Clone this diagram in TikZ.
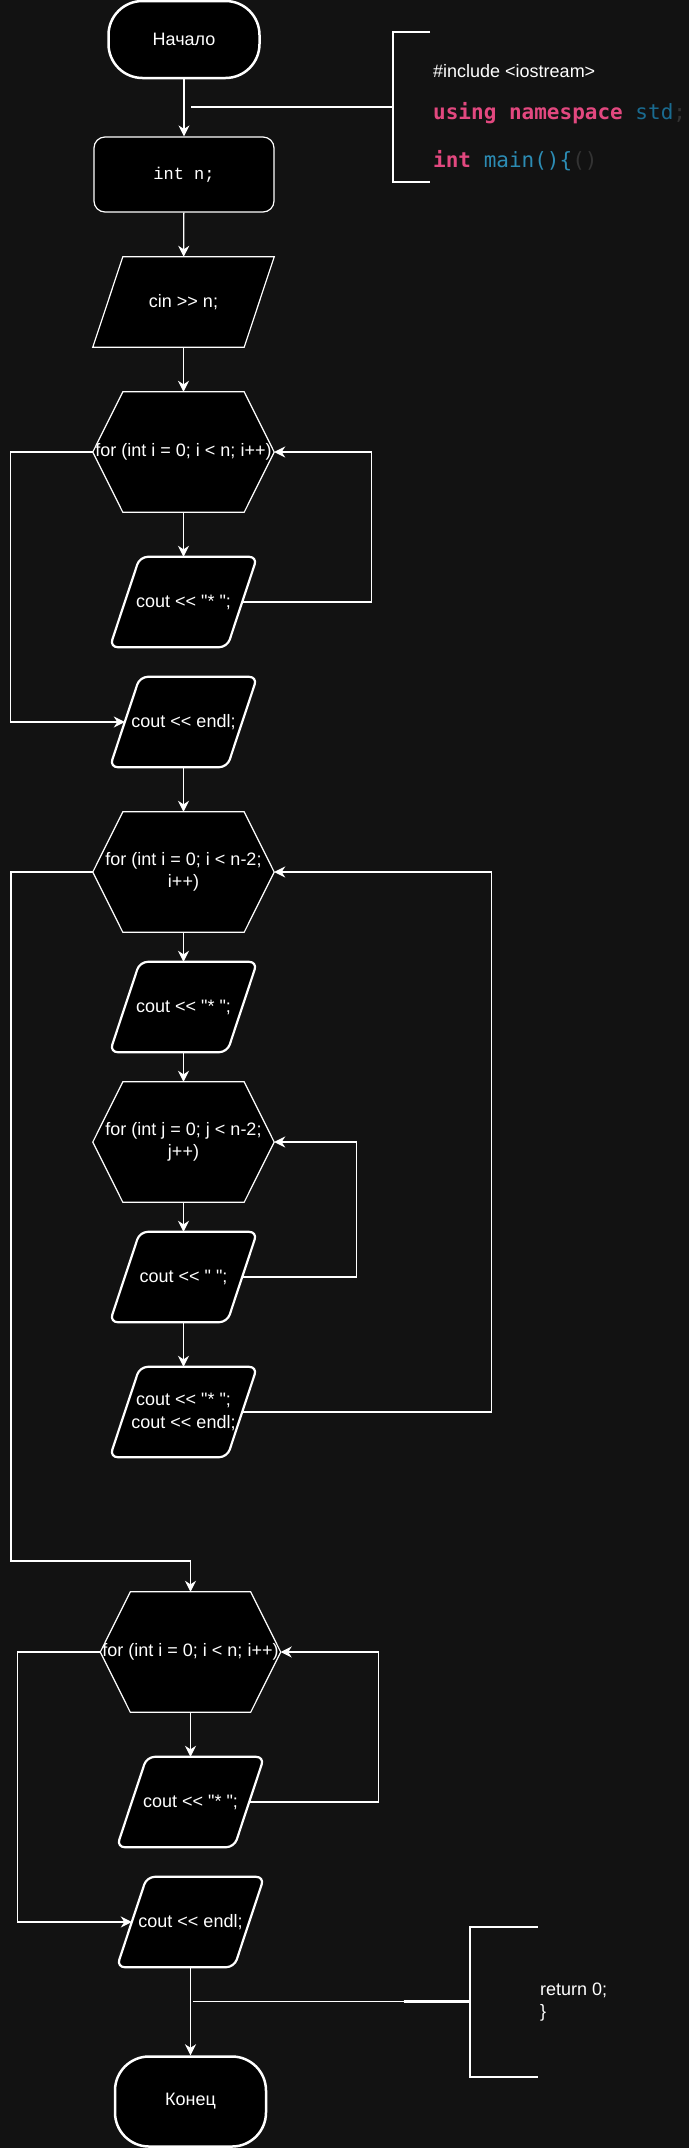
\documentclass[tikz,border=0pt]{standalone}
\usepackage{fontspec}
\setmainfont{Liberation Sans}[Ligatures=TeXOff]
\newfontfamily\codefont{DejaVu Sans Mono}[Ligatures=TeXOff]
\newfontfamily\typefont{Liberation Mono}[Ligatures=TeXOff]
\usetikzlibrary{positioning,calc,arrows.meta,backgrounds}
\definecolor{canvas}{HTML}{121212}
\definecolor{kwpink}{HTML}{E2487F}
\definecolor{nsblue}{HTML}{1A6B90}
\definecolor{fnblue}{HTML}{2C8CB4}
\definecolor{dimgrey}{HTML}{333333}
\tikzset{
  shapebase/.style={draw=white, fill=black, text=white, align=center, inner sep=0pt,
    font=\fontsize{18}{22.5}\selectfont},
  termbox/.style={shapebase, rectangle, rounded corners=34pt, minimum width=151pt,
    minimum height=77pt, line width=2.5pt},
  procbox/.style={shapebase, rectangle, rounded corners=11pt, minimum width=180pt,
    minimum height=75pt, line width=1.2pt},
  % slanted and hexagonal boxes: the node only holds the text, the outline is drawn later
  iobox/.style={shapebase, rectangle, draw=none, fill=none,
    minimum width=151pt, minimum height=90pt},
  outbox/.style={iobox, minimum width=117pt},
  forbox/.style={shapebase, rectangle, draw=none, fill=none,
    minimum width=181pt, minimum height=120pt},
  ioline/.style={draw=white, fill=black, line width=1.2pt},
  paraline/.style={draw=white, fill=black, line width=2.2pt, rounded corners=8pt},
  hexline/.style={draw=white, fill=black, line width=1.2pt},
  flowline/.style={draw=white, line width=1.3pt,
    -{Stealth[length=11pt,width=11pt,inset=3.5pt]}},
  notelink/.style={draw=white, line width=1.3pt},
  notebrace/.style={draw=white, line width=2.5pt},
  notetext/.style={text=white, inner sep=0pt, anchor=west, align=left,
    font=\fontsize{18}{22.5}\selectfont},
  codetext/.style={inner sep=0pt, anchor=west, font=\codefont\fontsize{21}{24}\selectfont}
}
\begin{document}
\begin{tikzpicture}[x=1pt, y=-1pt]
	\begin{scope}[on background layer]
		\fill[canvas] (0,0) rectangle (689,2148);
	\end{scope}
	\useasboundingbox (0,0) rectangle (689,2148);
	% first part: input and first row
	\node[termbox] (start) at (184,39.5) {Начало};
	\node[procbox, font=\typefont\fontsize{17}{20}\selectfont] (decl) at (184,174.5) {int n;};
	\node[iobox] (input) at (183.5,302) {cin >> n;};
	\node[forbox] (rowA) at (183.5,452) {for (int i = 0; i < n; i++)};
	\node[outbox] (starA) at (183.5,602) {cout << "* ";};
	\node[outbox] (endlA) at (183.5,722) {cout << endl;};
	\draw[flowline] (start) -- (decl);
	\draw[flowline] (decl) -- (input);
	\draw[flowline] (input) -- (rowA);
	\draw[flowline] (rowA) -- (starA);
	\draw[flowline] (starA.east) -- ++(129,0) |- (rowA.east);
	\draw[flowline] (rowA.west) -- ++(-82.5,0) |- (endlA.west);
	% middle rows
	\node[forbox] (rowB) at (183.5,872) {for (int i = 0; i < n-2;\\ i++)};
	\node[outbox] (starB) at (183.5,1007) {cout << "* ";};
	\node[forbox] (colB) at (183.5,1142) {for (int j = 0; j < n-2;\\ j++)};
	\node[outbox] (gapB) at (183.5,1277) {cout << " ";};
	\node[outbox] (lineB) at (183.5,1412) {cout << "* ";\\cout << endl;};
	\draw[flowline] (endlA) -- (rowB);
	\draw[flowline] (rowB) -- (starB);
	\draw[flowline] (starB) -- (colB);
	\draw[flowline] (colB) -- (gapB);
	\draw[flowline] (gapB.east) -- ++(114,0) |- (colB.east);
	\draw[flowline] (gapB) -- (lineB);
	\draw[flowline] (lineB.east) -- ++(249,0) |- (rowB.east);
	% last row
	\coordinate (drop) at (11,1561);
	\node[forbox, minimum width=180pt] (rowC) at (190.5,1652) {for (int i = 0; i < n; i++)};
	\node[outbox] (starC) at (190.5,1802) {cout << "* ";};
	\node[outbox] (endlC) at (190.5,1922) {cout << endl;};
	\node[termbox, minimum height=90pt] (finish) at (190.5,2101.5) {Конец};
	\draw[flowline] (rowB.west) -| (drop) -| (rowC.north);
	\draw[flowline] (rowC) -- (starC);
	\draw[flowline] (starC.east) -- ++(129,0) |- (rowC.east);
	\draw[flowline] (rowC.west) -- ++(-83,0) |- (endlC.west);
	\draw[flowline] (endlC) -- (finish);
	% outlines behind the text
	\begin{scope}[on background layer]
		\foreach \hex in {rowA,rowB,colB,rowC}
			\draw[hexline] (\hex.west) -- ([xshift=30pt]\hex.north west) -- ([xshift=-30pt]\hex.north east)
				-- (\hex.east) -- ([xshift=-30pt]\hex.south east) -- ([xshift=30pt]\hex.south west) -- cycle;
		\draw[ioline] ([xshift=-15pt]input.south west) -- ([xshift=15pt]input.north west)
			-- ([xshift=15pt]input.north east) -- ([xshift=-15pt]input.south east) -- cycle;
		\foreach \out in {starA,endlA,starB,gapB,lineB,starC,endlC}
			\draw[paraline] ([xshift=-15pt]\out.south west) -- ([xshift=15pt]\out.north west)
				-- ([xshift=15pt]\out.north east) -- ([xshift=-15pt]\out.south east) -- cycle;
	\end{scope}
	% code notes
	\coordinate (noteA) at (191,107);
	\draw[notelink] (noteA) -- (356,107);
	\draw[notebrace] (356,107) -- (393,107) (430,32) -- (393,32) -- (393,182) -- (430,182);
	\node[notetext] (incl) at (433,71) {\#include <iostream>};
	\node[codetext] (uses) at (433,113) {\textcolor{kwpink}{\bfseries using namespace} \textcolor{nsblue}{std}\textcolor{dimgrey}{;}};
	\node[codetext] (mainfn) at (433,161) {\textcolor{kwpink}{\bfseries int} \textcolor{fnblue}{main()\{}\textcolor{dimgrey}{()}};
	\coordinate (noteB) at (192.8,2001.7);
	\draw[notelink] (noteB) -- (403.5,2001.7);
	\draw[notebrace] (403.5,2001.7) -- (470,2001.7) (537.6,1927) -- (470,1927) -- (470,2077) -- (537.6,2077);
	\node[notetext] (ret) at (540,2002) {return 0;\\\}};
\end{tikzpicture}
\end{document}
